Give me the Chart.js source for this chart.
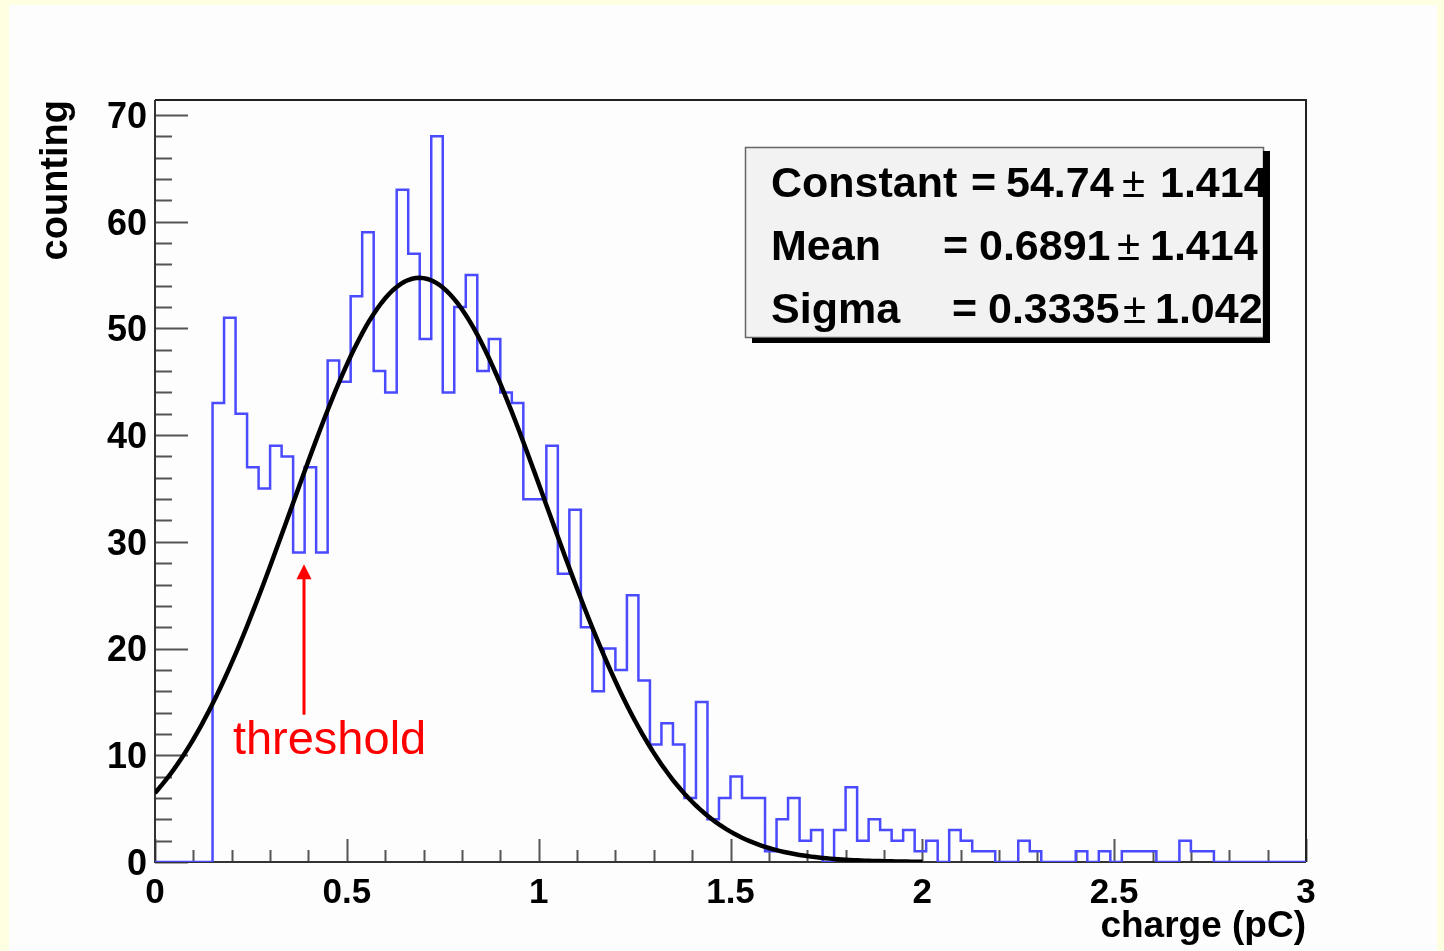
<!DOCTYPE html>
<html>
<head>
<meta charset="utf-8">
<script src="https://cdn.jsdelivr.net/npm/chart.js@4/dist/chart.umd.min.js"></script>
<style>
  html, body { margin: 0; padding: 0; background: #ffffe1; }
  #wrap { width: 1444px; height: 951px; }
</style>
</head>
<body>
<div id="wrap"><canvas id="chart" width="1444" height="951"></canvas></div>
<script>
// Histogram binning: 100 bins of 0.03 pC from 0 to 3 pC
const BIN_LOW = 0;
const BIN_WIDTH = 0.03;
const X_RANGE = [0, 3];
const Y_MAX = 71.4;

// Entries per bin
const counts = [
  0, 0, 0, 0, 0, 43, 51, 42, 37, 35,
  39, 38, 29, 37, 29, 47, 45, 53, 59, 46,
  44, 63, 57, 49, 68, 44, 52, 55, 46, 49,
  44, 43, 34, 34, 39, 27, 33, 22, 16, 20,
  18, 25, 17, 11, 13, 11, 6, 15, 4, 6,
  8, 6, 6, 1, 4, 6, 2, 3, 0, 3,
  7, 2, 4, 3, 2, 3, 1, 2, 0, 3,
  2, 1, 1, 0, 0, 2, 1, 0, 0, 0,
  1, 0, 1, 0, 1, 1, 1, 0, 0, 2,
  1, 1, 0, 0, 0, 0, 0, 0, 0, 0
];

// Tick labels
const xTickValues = [0, 0.5, 1, 1.5, 2, 2.5, 3];
const xTickLabels = ['0', '0.5', '1', '1.5', '2', '2.5', '3'];
const yTickValues = [0, 10, 20, 30, 40, 50, 60, 70];
const yTickLabels = ['0', '10', '20', '30', '40', '50', '60', '70'];

// Gaussian fit result
const fitNames  = ['Constant', 'Mean', 'Sigma'];
const fitValues = ['54.74', '0.6891', '0.3335'];
const fitErrors = ['1.414', '1.414', '1.042'];
const FIT_CONSTANT = 54.74;
const FIT_MEAN = 0.6891;
const FIT_SIGMA = 0.3335;
const FIT_RANGE = [0, 2];
const FIT_STEP = 0.01;

// Axis labels
const xTitle = 'charge (pC)';
const yTitle = 'counting';
const noteText = 'threshold';

// Annotation placement (data coordinates)
const NOTE_ARROW_X = 0.389;
const NOTE_ARROW_TIP = 27.9;
const NOTE_ARROW_TAIL = 13.8;
const NOTE_TEXT_X = 0.203;
const NOTE_TEXT_Y = 10.15;

// Step outline of the histogram: each point holds its value until the next edge
const histPoints = counts.map((c, i) => ({ x: BIN_LOW + i * BIN_WIDTH, y: c }));
histPoints.push({ x: X_RANGE[1], y: counts[counts.length - 1] });

// Fitted gaussian evaluated from the stated parameters
const fitPoints = [];
for (let k = 0; FIT_RANGE[0] + k * FIT_STEP <= FIT_RANGE[1] + 1e-9; k++) {
  const x = FIT_RANGE[0] + k * FIT_STEP;
  const z = (x - FIT_MEAN) / FIT_SIGMA;
  fitPoints.push({ x, y: FIT_CONSTANT * Math.exp(-0.5 * z * z) });
}

const FONT = "'Liberation Sans', Arial, Helvetica, sans-serif";

const pageBackground = {
  id: 'pageBackground',
  beforeDraw(chart) {
    const ctx = chart.ctx;
    ctx.save();
    ctx.fillStyle = '#ffffe1';
    ctx.fillRect(0, 0, chart.width, chart.height);
    ctx.fillStyle = '#fdfdfd';
    ctx.fillRect(9, 5, chart.width - 16, chart.height - 5);
    ctx.restore();
  }
};

// Frame, axis lines and inward tick marks
const frameAndTicks = {
  id: 'frameAndTicks',
  beforeDatasetsDraw(chart) {
    const { ctx, chartArea: a, scales: { x, y } } = chart;
    ctx.save();
    ctx.strokeStyle = '#555';
    ctx.lineWidth = 2;
    ctx.beginPath();
    for (let v = 0; v <= 70 + 1e-9; v += 2) {
      const p = Math.round(y.getPixelForValue(v)) + 0.5;
      const len = (Math.round(v) % 10 === 0) ? 33 : 17;
      ctx.moveTo(a.left, p);
      ctx.lineTo(a.left + len, p);
    }
    for (let k = 0; k <= 30; k++) {
      const p = Math.round(x.getPixelForValue(k / 10)) + 0.5;
      const len = (k % 5 === 0) ? 23 : 12;
      ctx.moveTo(p, a.bottom);
      ctx.lineTo(p, a.bottom - len);
    }
    ctx.stroke();

    ctx.strokeStyle = '#333';
    ctx.lineWidth = 2;
    ctx.beginPath();
    ctx.moveTo(a.left, a.top);
    ctx.lineTo(a.left, a.bottom);
    ctx.lineTo(a.right, a.bottom);
    ctx.stroke();
    ctx.strokeStyle = '#222';
    ctx.beginPath();
    ctx.moveTo(a.left, a.top);
    ctx.lineTo(a.right, a.top);
    ctx.lineTo(a.right, a.bottom);
    ctx.stroke();
    ctx.restore();
  }
};

// Fit statistics box
const statsBox = {
  id: 'statsBox',
  afterDatasetsDraw(chart) {
    const { ctx, chartArea: a } = chart;
    const x0 = a.left + 590, y0 = a.top + 47, w = 518, h = 190;
    ctx.save();
    ctx.fillStyle = '#f2f2f2';
    ctx.fillRect(x0, y0, w, h);
    ctx.strokeStyle = '#666';
    ctx.lineWidth = 1.5;
    ctx.strokeRect(x0 + 0.5, y0 + 0.5, w, h);

    const baseY = [50, 113, 176];
    const eqX = [226, 198, 207];
    const valX = [261, 234, 243];
    const pmX = [377, 372, 378];
    const errX = [415, 405, 410];
    ctx.fillStyle = '#000';
    ctx.textBaseline = 'alphabetic';
    ctx.textAlign = 'left';
    for (let i = 0; i < fitNames.length; i++) {
      const by = y0 + baseY[i];
      ctx.font = `bold 43px ${FONT}`;
      ctx.fillText(fitNames[i], x0 + 26, by);
      ctx.fillText('=', x0 + eqX[i], by);
      ctx.fillText(fitValues[i], x0 + valX[i], by);
      ctx.fillText(fitErrors[i], x0 + errX[i], by);
      ctx.font = `42px ${FONT}`;
      ctx.fillText('\u00b1', x0 + pmX[i], by);
    }

    // drop shadow on the right and bottom
    ctx.fillStyle = '#000';
    ctx.fillRect(x0 + w, y0 + 4, 7, h + 2);
    ctx.fillRect(x0 + 7, y0 + h + 1, w, 5);
    ctx.restore();
  }
};

// Threshold arrow and label
const thresholdNote = {
  id: 'thresholdNote',
  afterDatasetsDraw(chart) {
    const { ctx, scales: { x, y } } = chart;
    const ax = Math.round(x.getPixelForValue(NOTE_ARROW_X));
    const tip = y.getPixelForValue(NOTE_ARROW_TIP);
    const tail = y.getPixelForValue(NOTE_ARROW_TAIL);
    ctx.save();
    ctx.strokeStyle = '#ff0000';
    ctx.fillStyle = '#ff0000';
    ctx.lineWidth = 3;
    ctx.beginPath();
    ctx.moveTo(ax, tail);
    ctx.lineTo(ax, tip + 12);
    ctx.stroke();
    ctx.beginPath();
    ctx.moveTo(ax, tip);
    ctx.lineTo(ax - 7.5, tip + 15);
    ctx.lineTo(ax + 7.5, tip + 15);
    ctx.closePath();
    ctx.fill();
    ctx.font = `47px ${FONT}`;
    ctx.textAlign = 'left';
    ctx.textBaseline = 'alphabetic';
    ctx.fillText(noteText, x.getPixelForValue(NOTE_TEXT_X), y.getPixelForValue(NOTE_TEXT_Y));
    ctx.restore();
  }
};

new Chart(document.getElementById('chart'), {
  type: 'line',
  data: {
    datasets: [
      {
        label: 'fit',
        data: fitPoints,
        borderColor: '#000',
        borderWidth: 4.5,
        pointRadius: 0,
        tension: 0,
        fill: false,
        order: 0
      },
      {
        label: 'entries',
        data: histPoints,
        borderColor: '#4a4aff',
        borderWidth: 2.5,
        pointRadius: 0,
        stepped: 'before',
        fill: false,
        order: 1
      }
    ]
  },
  options: {
    responsive: false,
    animation: false,
    devicePixelRatio: 1,
    layout: { padding: { top: 100, right: 138, left: 0, bottom: 0 } },
    plugins: { legend: { display: false }, tooltip: { enabled: false } },
    scales: {
      x: {
        type: 'linear',
        min: X_RANGE[0],
        max: X_RANGE[1],
        grid: { display: false, drawTicks: false },
        border: { display: false },
        afterBuildTicks(scale) {
          scale.ticks = xTickValues.map(v => ({ value: v }));
        },
        ticks: {
          maxRotation: 0,
          autoSkip: false,
          padding: 10,
          color: '#000',
          font: { family: FONT, size: 35, weight: 'bold' },
          callback: (v) => {
            const i = xTickValues.indexOf(v);
            return i >= 0 ? xTickLabels[i] : '';
          }
        },
        title: {
          display: true,
          text: xTitle,
          align: 'end',
          color: '#000',
          padding: { top: 0, bottom: 2 },
          font: { family: FONT, size: 37, weight: 'bold' }
        },
        afterFit(scale) { scale.height = 89; }
      },
      y: {
        type: 'linear',
        min: 0,
        max: Y_MAX,
        grid: { display: false, drawTicks: false },
        border: { display: false },
        afterBuildTicks(scale) {
          scale.ticks = yTickValues.map(v => ({ value: v }));
        },
        ticks: {
          padding: 8,
          labelOffset: 3,
          color: '#000',
          font: { family: FONT, size: 36, weight: 'bold' },
          callback: (v) => {
            const i = yTickValues.indexOf(v);
            return i >= 0 ? yTickLabels[i] : '';
          }
        },
        title: {
          display: true,
          text: yTitle,
          align: 'end',
          color: '#000',
          padding: { top: 34, bottom: 0 },
          font: { family: FONT, size: 38, weight: 'bold' }
        },
        afterFit(scale) { scale.width = 155; }
      }
    }
  },
  plugins: [pageBackground, frameAndTicks, statsBox, thresholdNote]
});
</script>
</body>
</html>
